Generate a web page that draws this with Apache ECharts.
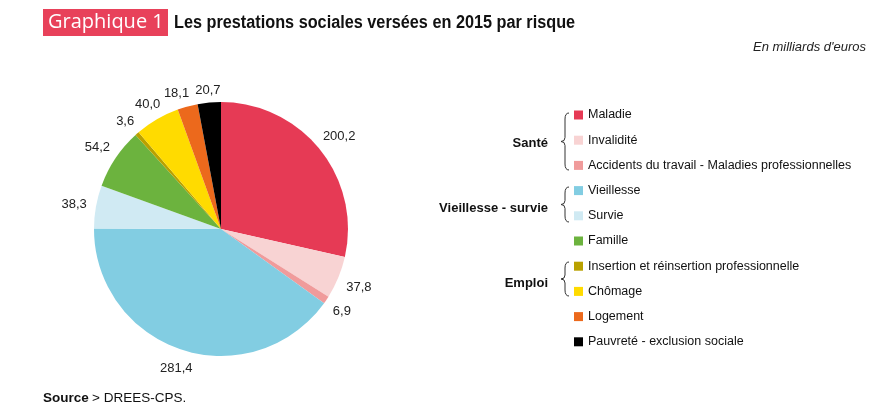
<!DOCTYPE html>
<html><head><meta charset="utf-8">
<script src="https://cdn.jsdelivr.net/npm/echarts@6/dist/echarts.min.js"></script>
<style>html,body{margin:0;padding:0;background:#fff}#c{width:883px;height:417px}</style>
</head><body><div id="c"></div>
<script>
const categories = ['Maladie','Invalidité','Accidents du travail - Maladies professionnelles','Vieillesse','Survie','Famille','Insertion et réinsertion professionnelle','Chômage','Logement','Pauvreté - exclusion sociale'];
const values = [200.2, 37.8, 6.9, 281.4, 38.3, 54.2, 3.6, 40.0, 18.1, 20.7];
const colors = ['#e63a55','#f8d3d3','#f09b9b','#82cde2','#d0eaf3','#6cb33e','#b9a100','#ffdb00','#ec691c','#000000'];
const groups = [
  {name:'Santé', y:143, y1:113, y2:170},
  {name:'Vieillesse - survie', y:208, y1:187, y2:222},
  {name:'Emploi', y:283, y1:262, y2:296}
];

const CENTER = [221, 229], RADIUS = 127, GAP = 9;
const fmt = v => v.toFixed(1).replace('.', ',');
const chart = echarts.init(document.getElementById('c'), null, {renderer:'canvas'});
const pieData = categories.map((n,i)=>({name:n, value:values[i], itemStyle:{color:colors[i]}}));

const bs = {stroke:'#333', lineWidth:1, fill:null};
function brace(x, y1, y2){
  const ym = (y1+y2)/2;
  return [
    {type:'bezierCurve', shape:{x1:x+4, y1:y1, cpx1:x, cpy1:y1, x2:x, y2:y1+6}, style:bs},
    {type:'line', shape:{x1:x, y1:y1+6, x2:x, y2:ym-4}, style:bs},
    {type:'bezierCurve', shape:{x1:x, y1:ym-4, cpx1:x, cpy1:ym, x2:x-4, y2:ym}, style:bs},
    {type:'bezierCurve', shape:{x1:x-4, y1:ym, cpx1:x, cpy1:ym, x2:x, y2:ym+4}, style:bs},
    {type:'line', shape:{x1:x, y1:ym+4, x2:x, y2:y2-6}, style:bs},
    {type:'bezierCurve', shape:{x1:x, y1:y2-6, cpx1:x, cpy1:y2, x2:x+4, y2:y2}, style:bs}
  ];
}
const graphics = [
  {type:'rect', x:43, y:9, shape:{width:125, height:27}, style:{fill:'#e8415a'}},
  {type:'text', x:48, y:22.5, style:{text:'Graphique 1', fill:'#fff', textVerticalAlign:'middle', font:'20px "Open Sans", sans-serif'}},
  {type:'text', x:174, y:23, scaleX:0.903, style:{text:'Les prestations sociales versées en 2015 par risque', fill:'#111', textVerticalAlign:'middle', font:'bold 18px "Liberation Sans", sans-serif'}},
  {type:'text', x:866, y:47, style:{text:"En milliards d'euros", fill:'#222', textAlign:'right', textVerticalAlign:'middle', font:'italic 13px "Liberation Sans", sans-serif'}},
  {type:'text', x:43, y:398, style:{rich:{b:{font:'bold 13.5px "Liberation Sans", sans-serif', fill:'#111'}, n:{font:'13.5px "Liberation Sans", sans-serif', fill:'#111'}}, text:'{b|Source} {n|> DREES-CPS.}', textVerticalAlign:'middle'}}
];
groups.forEach(g=>{
  graphics.push({type:'text', x:548, y:g.y, style:{text:g.name, textAlign:'right', textVerticalAlign:'middle', fill:'#111', font:'bold 13px "Liberation Sans", sans-serif'}});
  brace(565, g.y1, g.y2).forEach(e=>graphics.push(e));
});

// Label placement: the library puts each label inside its slice along the
// slice's mid-angle; we read that direction and move the label just outside
// the pie edge. A second pass nudges crowded labels apart (counter-clockwise).
const info = {};
function posFor(a, w, h){
  const ux = Math.sin(a), uy = -Math.cos(a);
  const hg = h - 5; // glyph height of the digits
  const d = RADIUS + GAP + Math.abs(ux)*w/2 + Math.abs(uy)*hg/2;
  return {x: CENTER[0] + ux*d, y: CENTER[1] + uy*d + 1.5};
}
function firstPass(p){
  const r = p.labelRect;
  const cx = r.x + r.width/2, cy = r.y + r.height/2;
  const a = Math.atan2(cx - CENTER[0], -(cy - CENTER[1]));
  info[p.dataIndex] = {a: a < 0 ? a + 2*Math.PI : a, w: r.width, h: r.height};
  const q = posFor(info[p.dataIndex].a, r.width, r.height);
  return {x:q.x, y:q.y, align:'center', verticalAlign:'middle'};
}
function overlaps(A, B){
  const pa = posFor(A.a, A.w, A.h), pb = posFor(B.a, B.w, B.h);
  return Math.abs(pa.x - pb.x) < (A.w + B.w)/2 + 6 && Math.abs(pa.y - pb.y) < (A.h + B.h)/2 - 4;
}
function resolve(){
  const idx = Object.keys(info).map(Number).sort((a,b)=>b-a);
  for (let k = 1; k < idx.length; k++){
    const cur = info[idx[k]], prev = info[idx[k-1]];
    let guard = 0;
    while (overlaps(cur, prev) && guard++ < 60) cur.a -= 0.25*Math.PI/180;
  }
}
function secondPass(p){
  const I = info[p.dataIndex];
  const q = posFor(I.a, I.w, I.h);
  return {x:q.x, y:q.y, align:'center', verticalAlign:'middle'};
}

const baseOption = {
  animation:false,
  backgroundColor:'#fff',
  legend:{
    orient:'vertical', left:574, top:108, padding:0,
    itemWidth:9, itemHeight:9, itemGap:11.2, icon:'rect', selectedMode:false,
    textStyle:{fontSize:12.5, lineHeight:14, color:'#111', fontFamily:'"Liberation Sans", sans-serif'},
    data: categories.map((n,i)=>({name:n, itemStyle:{color:colors[i]}}))
  },
  graphic: graphics,
  series:[
    {type:'pie', center:CENTER, radius:[0,RADIUS], startAngle:90, clockwise:true, silent:true,
     data:pieData, itemStyle:{borderWidth:0},
     label:{show:true, position:'inside', formatter:p=>fmt(p.value), color:'#222', fontSize:13, fontFamily:'"Liberation Sans", sans-serif'},
     labelLine:{show:false},
     labelLayout: firstPass}
  ]
};
chart.setOption(baseOption);
resolve();
chart.setOption({series:[{labelLayout: secondPass}]});
</script></body></html>
